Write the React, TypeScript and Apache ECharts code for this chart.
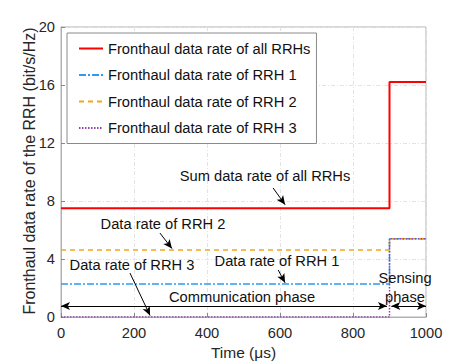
import React, { useEffect, useRef } from "react";
import * as echarts from "echarts";

const times = [0, 900, 1000];
const sumRate = [7.5, 16.2, 16.2];
const rrh1Rate = [2.28, 5.4, 5.4];
const rrh2Rate = [4.62, 5.4, 5.4];
const rrh3Rate = [0, 5.4, 5.4];
const seriesNames = [
  "Fronthaul data rate of all RRHs",
  "Fronthaul data rate of RRH 1",
  "Fronthaul data rate of RRH 2",
  "Fronthaul data rate of RRH 3",
];
const yAxisName = "Fronthaul data rate of the RRH (bit/s/Hz)";
const arrows: [number, number, number, number][] = [
  [581, 8.9, 614, 7.75],
  [271, 5.79, 304, 4.72],
  [595, 3.24, 614, 2.36],
  [189, 3.03, 244, 0.1],
];
const doubleArrows: [number, number, number, number][] = [
  [0, 0.76, 893, 0.76],
  [905, 0.76, 1000, 0.76],
];
const notes: [string, number, number][] = [
  ["Sum data rate of all RRHs", 265, 176],
  ["Data rate of RRH 2", 163, 224],
  ["Data rate of RRH 1", 277, 261],
  ["Data rate of RRH 3", 132, 265],
  ["Communication phase", 242, 297],
  ["Sensing", 405, 278],
  ["phase", 405, 297],
];

const FONT = "'Liberation Sans', Arial, Helvetica, sans-serif";
const FS = 14.7;

export default function App() {
  const ref = useRef<HTMLDivElement>(null);
  useEffect(() => {
    document.body.style.margin = "0";
    const chart = echarts.init(ref.current!, null, { renderer: "svg" });
    const zip = (v: number[]) => times.map((t, i) => [t, v[i]]);
    const mk = (name: string, v: number[], color: string, type: any, width: number) => ({
      name,
      type: "line",
      step: "end",
      data: zip(v),
      symbol: "none",
      lineStyle: { color, type, width },
      itemStyle: { color },
      z: 3,
    });
    chart.setOption({
      animation: false,
      textStyle: { fontFamily: FONT },
      grid: {
        left: 61,
        right: 45,
        top: 27,
        bottom: 45,
        containLabel: false,
        outerBoundsMode: "none",
        show: true,
        borderColor: "#b0b0b0",
        borderWidth: 1,
      },
      legend: {
        data: seriesNames,
        orient: "vertical",
        left: 67,
        top: 33,
        padding: [8, 6, 8, 11],
        itemGap: 11.5,
        itemWidth: 24,
        itemHeight: 14,
        itemTextGap: 3,
        itemStyle: { opacity: 0 },
        backgroundColor: "#fff",
        borderColor: "#8a8a8a",
        borderWidth: 1,
        textStyle: { fontSize: FS, color: "#111", fontFamily: FONT },
      },
      xAxis: {
        type: "value",
        min: 0,
        max: 1000,
        interval: 200,
        name: "Time (\u03bcs)",
        nameLocation: "middle",
        nameGap: 26,
        nameTextStyle: { fontSize: 15.5, color: "#262626", fontFamily: FONT },
        axisLine: { lineStyle: { color: "#b0b0b0" } },
        axisTick: { inside: true, length: 4, lineStyle: { color: "#888" } },
        axisLabel: { fontSize: FS, color: "#262626", margin: 8, fontFamily: FONT, formatter: (v: number) => String(v) },
        splitLine: { lineStyle: { color: "#e2e2e2", type: [4, 2, 1, 2] } },
      },
      yAxis: {
        type: "value",
        min: 0,
        max: 20,
        interval: 4,
        axisLine: { show: true, lineStyle: { color: "#b0b0b0" } },
        axisTick: { show: true, inside: true, length: 4, lineStyle: { color: "#888" } },
        axisLabel: { fontSize: FS, color: "#262626", margin: 6, fontFamily: FONT },
        splitLine: { lineStyle: { color: "#e2e2e2", type: [4, 2, 1, 2] } },
      },
      series: [
        mk(seriesNames[0], sumRate, "#ff0000", "solid", 2),
        mk(seriesNames[1], rrh1Rate, "#2b9cf2", [7, 2, 2, 2], 1.5),
        mk(seriesNames[2], rrh2Rate, "#f0a818", [5, 4], 1.5),
        mk(seriesNames[3], rrh3Rate, "#8e44a6", [1.5, 1.5], 1.5),
        {
          name: "annot",
          type: "line",
          data: [],
          silent: true,
          markLine: {
            silent: true,
            animation: false,
            label: { show: false },
            lineStyle: { color: "#000", type: "solid", width: 1 },
            emphasis: { disabled: true },
            data: [
              ...arrows.map((a) => [
                { coord: [a[0], a[1]], symbol: "none" },
                { coord: [a[2], a[3]], symbol: "arrow", symbolSize: [6, 9] },
              ]),
              ...doubleArrows.map((a) => [
                { coord: [a[0], a[1]], symbol: "arrow", symbolSize: [6, 9] },
                { coord: [a[2], a[3]], symbol: "arrow", symbolSize: [6, 9] },
              ]),
            ],
          },
        },
      ],
      graphic: [
        {
          type: "text",
          x: 29,
          y: 171,
          rotation: Math.PI / 2,
          z: 10,
          style: {
            text: yAxisName,
            x: 0,
            y: 0,
            align: "center",
            verticalAlign: "middle",
            font: `16px ${FONT}`,
            fill: "#262626",
          },
        },
        ...notes.map(([t, x, y]) => ({
          type: "text",
          x,
          y,
          z: 10,
          style: {
            text: t,
            x: 0,
            y: 0,
            align: "center",
            verticalAlign: "middle",
            font: `${FS}px ${FONT}`,
            fill: "#111",
          },
        })),
      ],
    });
    return () => chart.dispose();
  }, []);
  return <div ref={ref} style={{ width: 471, height: 362 }} />;
}
